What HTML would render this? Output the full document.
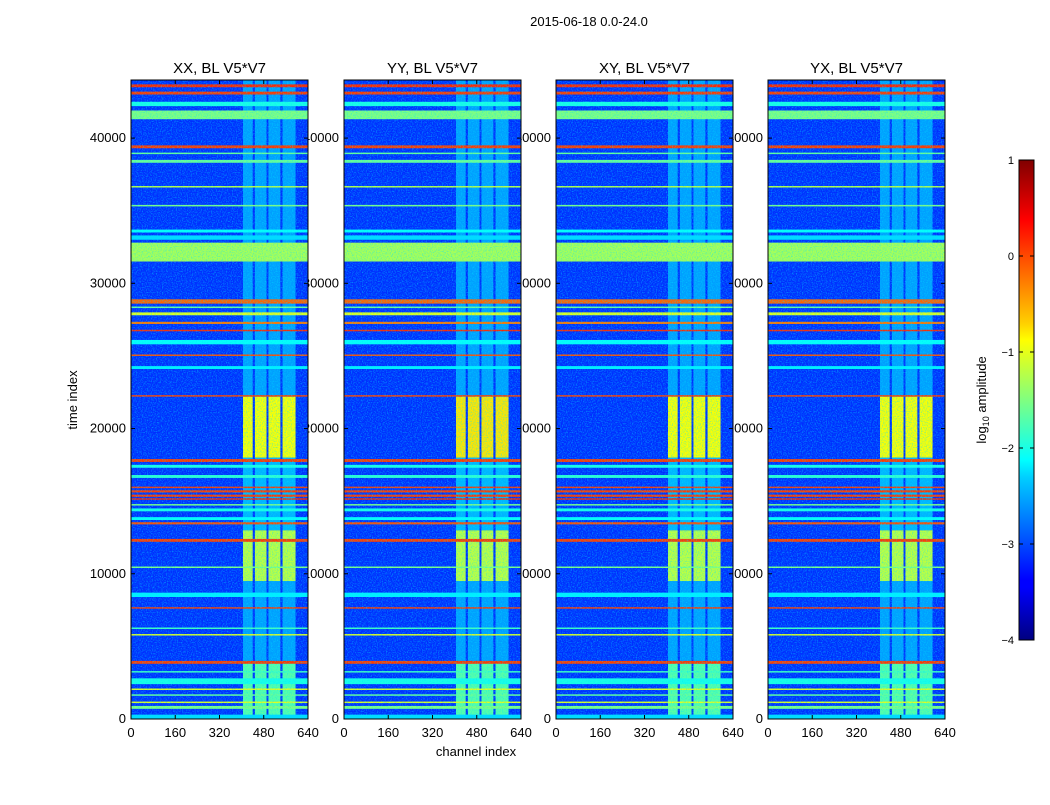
<!DOCTYPE html>
<html><head><meta charset="utf-8"><style>
body{margin:0;background:#fff;font-family:"Liberation Sans",sans-serif;}
svg text{font-family:"Liberation Sans",sans-serif;}
</style></head><body>
<svg id="fig" width="1050" height="800" viewBox="0 0 1050 800">
<defs>
<filter id="noise" x="0" y="0" width="100%" height="100%">
<feTurbulence type="fractalNoise" baseFrequency="0.8" numOctaves="2" seed="3"/>
<feColorMatrix type="matrix" values="0 0 0 0 0  0 0 0 0 0.75  0 0 0 0 1  2.2 0 0 0 -0.95"/>
</filter>
<linearGradient id="jet" x1="0" y1="1" x2="0" y2="0">
<stop offset="0" stop-color="#000080"/><stop offset="0.11" stop-color="#0000ff"/>
<stop offset="0.125" stop-color="#0000ff"/><stop offset="0.34" stop-color="#00d0ff"/>
<stop offset="0.375" stop-color="#00ffff"/><stop offset="0.5" stop-color="#80ff80"/>
<stop offset="0.625" stop-color="#ffff00"/><stop offset="0.66" stop-color="#ffd000"/>
<stop offset="0.875" stop-color="#ff0000"/><stop offset="1" stop-color="#800000"/>
</linearGradient>
</defs>
<text x="589" y="26" font-size="13" text-anchor="middle">2015-06-18 0.0-24.0</text>
<g id="labels"></g>
<g id="panels"></g>
<text x="476" y="756" font-size="13" text-anchor="middle">channel index</text>
<text transform="translate(77,400) rotate(-90)" font-size="13" text-anchor="middle">time index</text>
<g>
<rect x="1019" y="160" width="15" height="480" fill="url(#jet)" stroke="#000" stroke-width="1"/>
<g id="cbticks"></g>
<text transform="translate(986,400) rotate(-90)" font-size="13" text-anchor="middle">log<tspan font-size="9" dy="3">10</tspan><tspan dy="-3"> amplitude</tspan></text>
</g>
</svg>
<script>
const panelTitles=["XX, BL V5*V7","YY, BL V5*V7","XY, BL V5*V7","YX, BL V5*V7"];
const xTicks=[0,160,320,480,640];
const yTicks=[0,10000,20000,30000,40000];
const cbTicks=[1,0,-1,-2,-3,-4];
const bgValue=-3.15;
const chanCols=[[405,440],[448,490],[497,540],[548,595]];
const colSegStart=[0,4000,9500,13000,18000,22200];
const colSegEnd=[4000,9500,13000,18000,22200,44000];
const colSegVal=[-1.7,-2.6,-1.2,-2.5,-0.9,-2.6];
const bandStart=[31500,33000,33500,39300,38900,38300,36600,35300,41300,42200,43000,43500,28600,28300,27800,27200,26700,25800,25000,24100,22200,17700,17300,16600,15900,15600,15300,15100,14700,14300,13700,13400,12200,10400,8400,7600,6200,5800,3800,3200,2400,2000,1600,1100,700,0];
const bandEnd=[32800,33300,33700,39500,39000,38500,36700,35400,41900,42500,43200,43700,28900,28400,28000,27350,26800,26100,25100,24300,22300,17900,17500,16800,16000,15750,15450,15200,14800,14500,13900,13550,12400,10500,8700,7700,6300,5850,4000,3300,2800,2100,1700,1200,900,300];
const bandVal=[-1.3,-2.3,-2.1,0.1,-1.6,-1.6,-1.2,-1.5,-1.5,-2,0.1,0.2,-0.1,-1.6,-1,-0.2,0.2,-2.1,0,-2.2,0.1,0.1,-2,-1.9,0.1,0.1,0.1,0.2,-1.5,-2,-2.1,0,0.1,-1.5,-2.2,0.1,-1.8,-1,0.1,-1.8,-2,-1,-1.6,-1,-1.5,-2.3];

const NS="http://www.w3.org/2000/svg";
const panelX=[131,344,556,768], PW=177, Y0=719, Y1=80, TMAX=44000, CMAX=640;
function jet(v){let t=(v+4)/5;t=Math.max(0,Math.min(1,t));
 const f=x=>Math.round(255*Math.max(0,Math.min(1,x)));
 return `rgb(${f(1.5-Math.abs(4*t-3))},${f(1.5-Math.abs(4*t-2))},${f(1.5-Math.abs(4*t-1))})`;}
function mk(tag,attrs,parent){const e=document.createElementNS(NS,tag);for(const k in attrs)e.setAttribute(k,attrs[k]);parent.appendChild(e);return e;}
const yS=t=>Y0-(t/TMAX)*(Y0-Y1);
const labels=document.getElementById('labels'), panels=document.getElementById('panels');
panelX.forEach((px,p)=>{
 const xS=c=>px+c/CMAX*PW;
 yTicks.forEach(t=>{const e=mk('text',{x:px-5,y:yS(t)+4,'font-size':13,'text-anchor':'end'},labels);e.textContent=t;
  
  });
 const g=mk('g',{},panels);
 
 
 mk('rect',{x:px,y:Y1,width:PW,height:Y0-Y1,fill:jet(bgValue)},g);
 chanCols.forEach(cc=>{colSegVal.forEach((v,i)=>{
  const r=mk('rect',{x:xS(cc[0]),y:yS(colSegEnd[i]),width:xS(cc[1])-xS(cc[0]),height:yS(colSegStart[i])-yS(colSegEnd[i]),fill:jet(v+(p===1&&i===4?0.15:0))},g);
  
  });});
 bandVal.forEach((v,i)=>{const r=mk('rect',{x:px,y:yS(bandEnd[i]),width:PW,height:Math.max(1.5,yS(bandStart[i])-yS(bandEnd[i])),fill:jet(v)},g);
  
  });
 mk('rect',{x:px,y:Y1,width:PW,height:Y0-Y1,fill:'#000',filter:'url(#noise)',opacity:0.6},g);
 mk('rect',{x:px,y:Y1,width:PW,height:Y0-Y1,fill:'none',stroke:'#000','stroke-width':1},g);
 xTicks.forEach(c=>{mk('line',{x1:xS(c),x2:xS(c),y1:Y0,y2:Y0-4,stroke:'#000'},g);mk('line',{x1:xS(c),x2:xS(c),y1:Y1,y2:Y1+4,stroke:'#000'},g);
  const e=mk('text',{x:xS(c),y:Y0+18,'font-size':13,'text-anchor':'middle'},g);e.textContent=c;
  
  });
 yTicks.forEach(t=>{mk('line',{x1:px,x2:px+4,y1:yS(t),y2:yS(t),stroke:'#000'},g);mk('line',{x1:px+PW,x2:px+PW-4,y1:yS(t),y2:yS(t),stroke:'#000'},g);});
 const tt=mk('text',{x:px+PW/2,y:73,'font-size':15,'text-anchor':'middle'},g);tt.textContent=panelTitles[p];
 
 
});
const cbt=document.getElementById('cbticks');
cbTicks.forEach(v=>{const y=160+(1-v)/5*480;
 mk('line',{x1:1019,x2:1023,y1:y,y2:y,stroke:'#000'},cbt);mk('line',{x1:1034,x2:1030,y1:y,y2:y,stroke:'#000'},cbt);
 const e=mk('text',{x:1014,y:y+4,'font-size':11,'text-anchor':'end'},cbt);e.textContent=v<0?'\u2212'+(-v):v;
 
 });
</script>
</body></html>
